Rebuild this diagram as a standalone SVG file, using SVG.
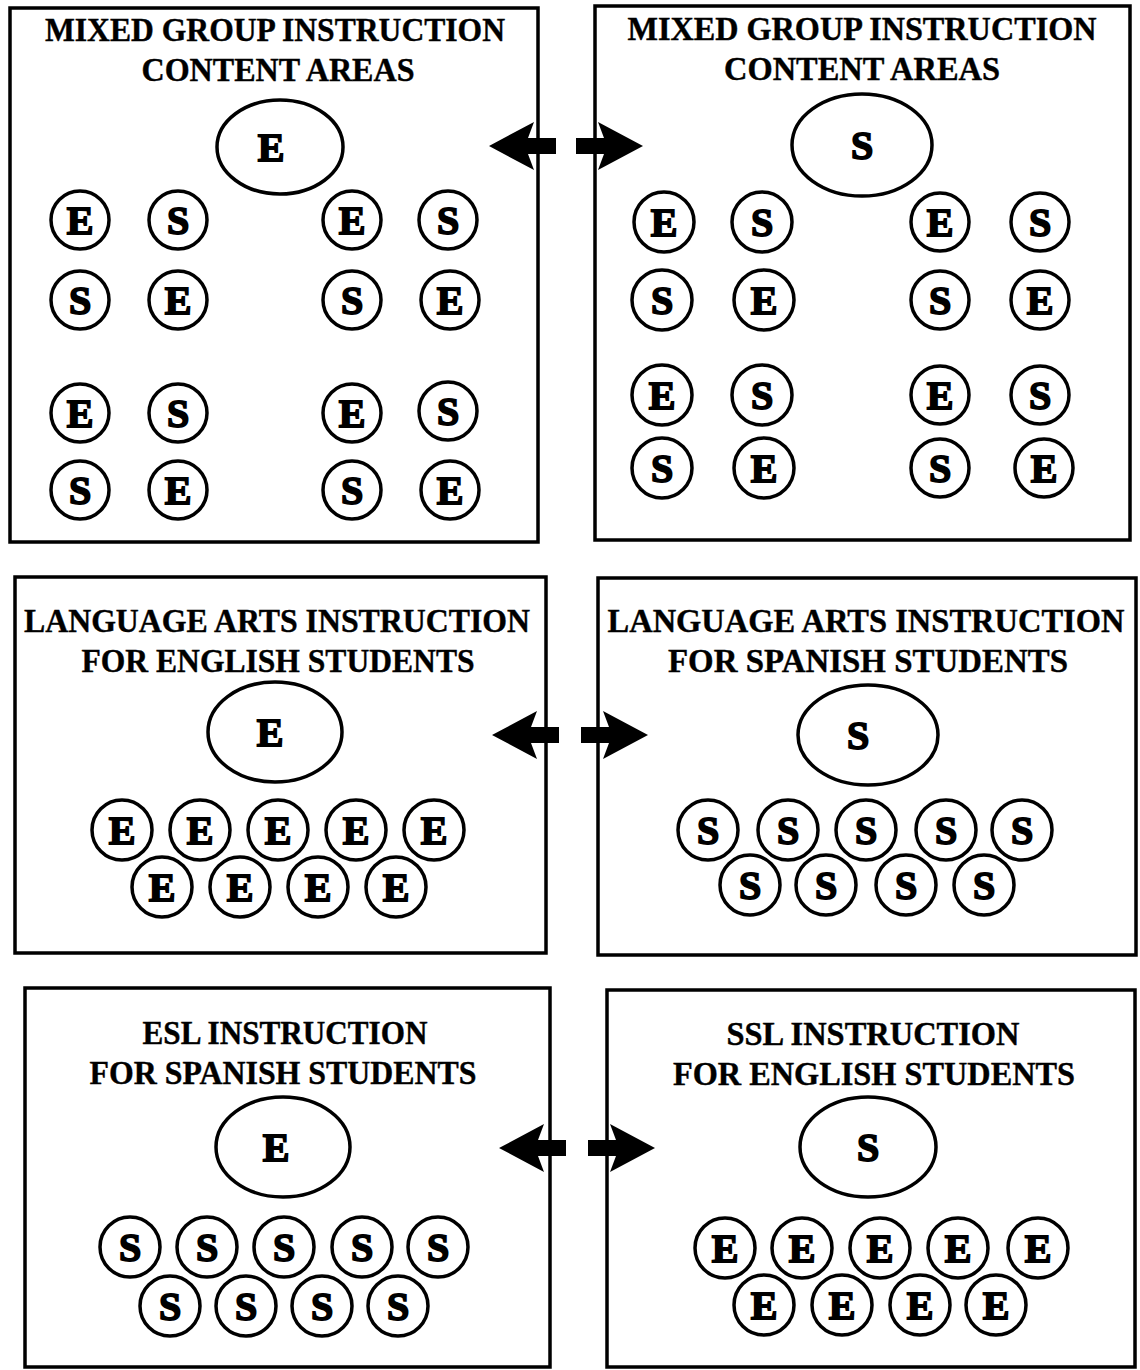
<svg xmlns="http://www.w3.org/2000/svg" xmlns:xlink="http://www.w3.org/1999/xlink" width="1140" height="1370" viewBox="0 0 1140 1370">
<style>
.bg{fill:#fff}
.box{fill:#fff;stroke:#000;stroke-width:3.5}
.t{font-family:"Liberation Serif","DejaVu Serif",serif;font-weight:bold;font-size:33px;text-anchor:middle;fill:#000;stroke:#000;stroke-width:0.4}
.seat circle{fill:#fff;stroke:#000;stroke-width:3.5}
.seat text,.lead text{font-family:"Liberation Serif","DejaVu Serif",serif;font-weight:bold;font-size:40px;text-anchor:middle;fill:#000;stroke:#000;stroke-width:1.8}
.lead ellipse{fill:#fff;stroke:#000;stroke-width:3.5}
.arrow{fill:#000}
</style>
<defs>
<path id="arrL" d="M0,0 L45,-24 L39,-8 L67,-8 L67,8 L39,8 L45,24 Z"/>
</defs>
<rect class="bg" width="1140" height="1370"/>

<g id="box-mixed-english">
<rect class="box" x="10" y="8" width="528" height="534"/>
<text class="t" x="275" y="41" textLength="460" lengthAdjust="spacingAndGlyphs">MIXED GROUP INSTRUCTION</text>
<text class="t" x="278" y="81" textLength="273" lengthAdjust="spacingAndGlyphs">CONTENT AREAS</text>
<g class="lead"><ellipse cx="280" cy="147" rx="63" ry="47"/><text x="271" y="161">E</text></g>
<g class="seat"><circle cx="80" cy="220" r="29"/><text x="80" y="234">E</text></g>
<g class="seat"><circle cx="178" cy="220" r="29"/><text x="178" y="234">S</text></g>
<g class="seat"><circle cx="352" cy="220" r="29"/><text x="352" y="234">E</text></g>
<g class="seat"><circle cx="448" cy="220" r="29"/><text x="448" y="234">S</text></g>
<g class="seat"><circle cx="80" cy="300" r="29"/><text x="80" y="314">S</text></g>
<g class="seat"><circle cx="178" cy="300" r="29"/><text x="178" y="314">E</text></g>
<g class="seat"><circle cx="352" cy="300" r="29"/><text x="352" y="314">S</text></g>
<g class="seat"><circle cx="450" cy="300" r="29"/><text x="450" y="314">E</text></g>
<g class="seat"><circle cx="80" cy="413" r="29"/><text x="80" y="427">E</text></g>
<g class="seat"><circle cx="178" cy="413" r="29"/><text x="178" y="427">S</text></g>
<g class="seat"><circle cx="352" cy="413" r="29"/><text x="352" y="427">E</text></g>
<g class="seat"><circle cx="448" cy="411" r="29"/><text x="448" y="425">S</text></g>
<g class="seat"><circle cx="80" cy="490" r="29"/><text x="80" y="504">S</text></g>
<g class="seat"><circle cx="178" cy="490" r="29"/><text x="178" y="504">E</text></g>
<g class="seat"><circle cx="352" cy="490" r="29"/><text x="352" y="504">S</text></g>
<g class="seat"><circle cx="450" cy="490" r="29"/><text x="450" y="504">E</text></g>
</g>

<g id="box-mixed-spanish">
<rect class="box" x="595" y="6" width="535" height="534"/>
<text class="t" x="862" y="40" textLength="469" lengthAdjust="spacingAndGlyphs">MIXED GROUP INSTRUCTION</text>
<text class="t" x="862" y="80" textLength="276" lengthAdjust="spacingAndGlyphs">CONTENT AREAS</text>
<g class="lead"><ellipse cx="862" cy="145" rx="70" ry="51"/><text x="862" y="159">S</text></g>
<g class="seat"><circle cx="664" cy="222" r="30"/><text x="664" y="236">E</text></g>
<g class="seat"><circle cx="762" cy="222" r="30"/><text x="762" y="236">S</text></g>
<g class="seat"><circle cx="940" cy="222" r="29"/><text x="940" y="236">E</text></g>
<g class="seat"><circle cx="1040" cy="222" r="29"/><text x="1040" y="236">S</text></g>
<g class="seat"><circle cx="662" cy="300" r="30"/><text x="662" y="314">S</text></g>
<g class="seat"><circle cx="764" cy="300" r="30"/><text x="764" y="314">E</text></g>
<g class="seat"><circle cx="940" cy="300" r="29"/><text x="940" y="314">S</text></g>
<g class="seat"><circle cx="1040" cy="300" r="29"/><text x="1040" y="314">E</text></g>
<g class="seat"><circle cx="662" cy="395" r="30"/><text x="662" y="409">E</text></g>
<g class="seat"><circle cx="762" cy="395" r="30"/><text x="762" y="409">S</text></g>
<g class="seat"><circle cx="940" cy="395" r="29"/><text x="940" y="409">E</text></g>
<g class="seat"><circle cx="1040" cy="395" r="29"/><text x="1040" y="409">S</text></g>
<g class="seat"><circle cx="662" cy="468" r="30"/><text x="662" y="482">S</text></g>
<g class="seat"><circle cx="764" cy="468" r="30"/><text x="764" y="482">E</text></g>
<g class="seat"><circle cx="940" cy="468" r="29"/><text x="940" y="482">S</text></g>
<g class="seat"><circle cx="1044" cy="468" r="29"/><text x="1044" y="482">E</text></g>
</g>

<g id="box-la-english">
<rect class="box" x="15" y="577" width="531" height="376"/>
<text class="t" x="277" y="632" textLength="506" lengthAdjust="spacingAndGlyphs">LANGUAGE ARTS INSTRUCTION</text>
<text class="t" x="278" y="672" textLength="393" lengthAdjust="spacingAndGlyphs">FOR ENGLISH STUDENTS</text>
<g class="lead"><ellipse cx="275" cy="732" rx="67" ry="50"/><text x="270" y="746">E</text></g>
<g class="seat"><circle cx="122" cy="830" r="30"/><text x="122" y="844">E</text></g>
<g class="seat"><circle cx="200" cy="830" r="30"/><text x="200" y="844">E</text></g>
<g class="seat"><circle cx="278" cy="830" r="30"/><text x="278" y="844">E</text></g>
<g class="seat"><circle cx="356" cy="830" r="30"/><text x="356" y="844">E</text></g>
<g class="seat"><circle cx="434" cy="830" r="30"/><text x="434" y="844">E</text></g>
<g class="seat"><circle cx="162" cy="887" r="30"/><text x="162" y="901">E</text></g>
<g class="seat"><circle cx="240" cy="887" r="30"/><text x="240" y="901">E</text></g>
<g class="seat"><circle cx="318" cy="887" r="30"/><text x="318" y="901">E</text></g>
<g class="seat"><circle cx="396" cy="887" r="30"/><text x="396" y="901">E</text></g>
</g>

<g id="box-la-spanish">
<rect class="box" x="598" y="578" width="538" height="377"/>
<text class="t" x="866" y="632" textLength="517" lengthAdjust="spacingAndGlyphs">LANGUAGE ARTS INSTRUCTION</text>
<text class="t" x="868" y="672" textLength="400" lengthAdjust="spacingAndGlyphs">FOR SPANISH STUDENTS</text>
<g class="lead"><ellipse cx="868" cy="735" rx="70" ry="50"/><text x="858" y="749">S</text></g>
<g class="seat"><circle cx="708" cy="830" r="30"/><text x="708" y="844">S</text></g>
<g class="seat"><circle cx="788" cy="830" r="30"/><text x="788" y="844">S</text></g>
<g class="seat"><circle cx="866" cy="830" r="30"/><text x="866" y="844">S</text></g>
<g class="seat"><circle cx="946" cy="830" r="30"/><text x="946" y="844">S</text></g>
<g class="seat"><circle cx="1022" cy="830" r="30"/><text x="1022" y="844">S</text></g>
<g class="seat"><circle cx="750" cy="885" r="30"/><text x="750" y="899">S</text></g>
<g class="seat"><circle cx="826" cy="885" r="30"/><text x="826" y="899">S</text></g>
<g class="seat"><circle cx="906" cy="885" r="30"/><text x="906" y="899">S</text></g>
<g class="seat"><circle cx="984" cy="885" r="30"/><text x="984" y="899">S</text></g>
</g>

<g id="box-esl">
<rect class="box" x="25" y="988" width="525" height="379"/>
<text class="t" x="285" y="1044" textLength="285" lengthAdjust="spacingAndGlyphs">ESL INSTRUCTION</text>
<text class="t" x="283" y="1084" textLength="387" lengthAdjust="spacingAndGlyphs">FOR SPANISH STUDENTS</text>
<g class="lead"><ellipse cx="283" cy="1147" rx="67" ry="50"/><text x="276" y="1161">E</text></g>
<g class="seat"><circle cx="130" cy="1247" r="30"/><text x="130" y="1261">S</text></g>
<g class="seat"><circle cx="207" cy="1247" r="30"/><text x="207" y="1261">S</text></g>
<g class="seat"><circle cx="284" cy="1247" r="30"/><text x="284" y="1261">S</text></g>
<g class="seat"><circle cx="362" cy="1247" r="30"/><text x="362" y="1261">S</text></g>
<g class="seat"><circle cx="438" cy="1247" r="30"/><text x="438" y="1261">S</text></g>
<g class="seat"><circle cx="170" cy="1306" r="30"/><text x="170" y="1320">S</text></g>
<g class="seat"><circle cx="246" cy="1306" r="30"/><text x="246" y="1320">S</text></g>
<g class="seat"><circle cx="322" cy="1306" r="30"/><text x="322" y="1320">S</text></g>
<g class="seat"><circle cx="398" cy="1306" r="30"/><text x="398" y="1320">S</text></g>
</g>

<g id="box-ssl">
<rect class="box" x="607" y="990" width="528" height="377"/>
<text class="t" x="873" y="1045" textLength="293" lengthAdjust="spacingAndGlyphs">SSL INSTRUCTION</text>
<text class="t" x="874" y="1085" textLength="402" lengthAdjust="spacingAndGlyphs">FOR ENGLISH STUDENTS</text>
<g class="lead"><ellipse cx="868" cy="1147" rx="68" ry="50"/><text x="868" y="1161">S</text></g>
<g class="seat"><circle cx="725" cy="1248" r="30"/><text x="725" y="1262">E</text></g>
<g class="seat"><circle cx="802" cy="1248" r="30"/><text x="802" y="1262">E</text></g>
<g class="seat"><circle cx="880" cy="1248" r="30"/><text x="880" y="1262">E</text></g>
<g class="seat"><circle cx="958" cy="1248" r="30"/><text x="958" y="1262">E</text></g>
<g class="seat"><circle cx="1038" cy="1248" r="30"/><text x="1038" y="1262">E</text></g>
<g class="seat"><circle cx="764" cy="1305" r="30"/><text x="764" y="1319">E</text></g>
<g class="seat"><circle cx="842" cy="1305" r="30"/><text x="842" y="1319">E</text></g>
<g class="seat"><circle cx="920" cy="1305" r="30"/><text x="920" y="1319">E</text></g>
<g class="seat"><circle cx="996" cy="1305" r="30"/><text x="996" y="1319">E</text></g>
</g>

<g id="connectors" class="arrow">
<use xlink:href="#arrL" transform="translate(489,146)"/>
<use xlink:href="#arrL" transform="translate(643,146) scale(-1,1)"/>
<use xlink:href="#arrL" transform="translate(492,735)"/>
<use xlink:href="#arrL" transform="translate(648,735) scale(-1,1)"/>
<use xlink:href="#arrL" transform="translate(499,1148)"/>
<use xlink:href="#arrL" transform="translate(655,1148) scale(-1,1)"/>
</g>
</svg>
